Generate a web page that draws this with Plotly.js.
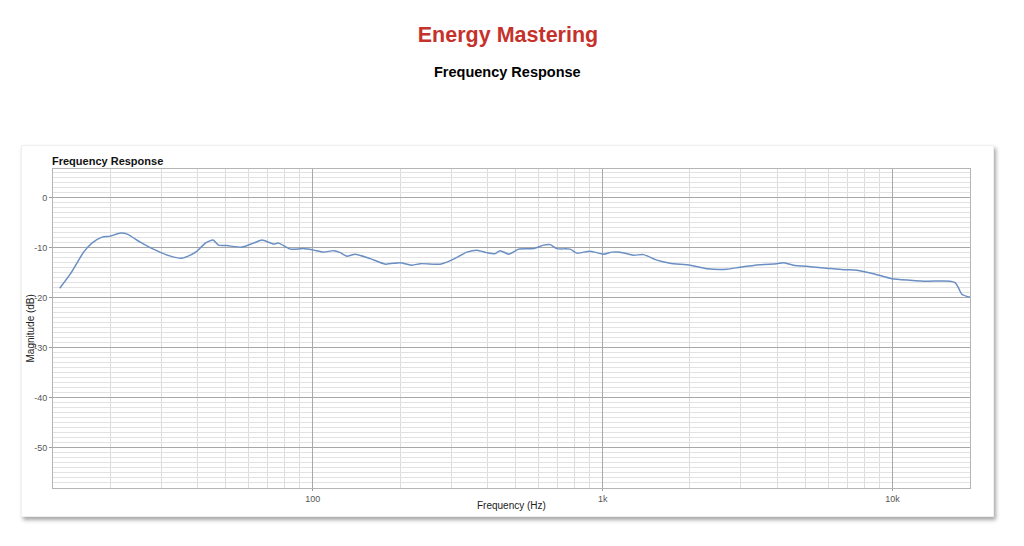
<!DOCTYPE html>
<html>
<head>
<meta charset="utf-8">
<script src="https://cdn.plot.ly/plotly-3.0.1.min.js"></script>
<style>
  html, body { margin: 0; padding: 0; background: #fff; }
  #frame {
    position: absolute; left: 21px; top: 145px; width: 971px; height: 370px;
    background: #fff; border: 1px solid #f0f0f0;
    box-shadow: 2px 3px 4px rgba(0, 0, 0, 0.35);
  }
  #myDiv { position: absolute; left: 0; top: 0; width: 1024px; height: 546px; }
</style>
</head>
<body>
<div id="frame"></div>
<div id="myDiv"></div>
<script>
// frequency response (Hz / dB)
var freqHz = [
  13.4, 14.6, 16.2, 17.3, 18.75, 20, 21.7, 22.9, 25.4, 28.2,
  32.3, 35.4, 37.8, 39.9, 42.6, 45.3, 47.3, 50.6, 57, 62.5,
  66.8, 73.3, 76.2, 83.6, 92.9, 100.6, 109, 118, 124.5, 131,
  140, 158, 178, 200, 220, 235, 275, 290, 306, 340,
  368, 399, 426, 443, 474, 513, 577, 625, 659, 695,
  773, 815, 906, 1006, 1076, 1149, 1277, 1383, 1538, 1709,
  2004, 2288, 2681, 2979, 3492, 3988, 4200, 4550, 5198, 5935,
  6775, 7536, 8600, 9933, 11480, 13110, 15780, 16430, 16870, 17330,
  18500
];
var magDb = [
  -18.1, -15.2, -10.9, -9.1, -7.9, -7.7, -7.1, -7.3, -8.9, -10.3,
  -11.7, -12.1, -11.5, -10.7, -9.1, -8.5, -9.5, -9.6, -9.9, -9.1,
  -8.5, -9.3, -9.1, -10.3, -10.2, -10.5, -10.9, -10.6, -11.0, -11.7,
  -11.3, -12.2, -13.3, -13.0, -13.5, -13.2, -13.3, -12.9, -12.3, -10.9,
  -10.5, -11.0, -11.2, -10.6, -11.3, -10.3, -10.2, -9.5, -9.4, -10.2,
  -10.3, -11.1, -10.7, -11.3, -10.9, -10.9, -11.5, -11.4, -12.5, -13.1,
  -13.5, -14.2, -14.3, -13.9, -13.4, -13.2, -13.0, -13.5, -13.8, -14.1,
  -14.4, -14.5, -15.2, -16.2, -16.5, -16.7, -16.7, -17.0, -18.0, -19.3,
  -19.9
];

var xTickVals = [100, 1000, 10000];
var xTickText = ['100', '1k', '10k'];
var xMinorVals = [20, 30, 40, 50, 60, 70, 80, 90,
  200, 300, 400, 500, 600, 700, 800, 900,
  2000, 3000, 4000, 5000, 6000, 7000, 8000, 9000];
var yTickVals = [0, -10, -20, -30, -40, -50];
var yTickText = ['0', '-10', '-20', '-30', '-40', '-50'];

var font = 'Liberation Sans, Arial, sans-serif';

var trace = {
  x: freqHz,
  y: magDb,
  type: 'scatter',
  mode: 'lines',
  line: { color: '#6a8fc4', width: 1.5, shape: 'spline', smoothing: 0.6 },
  hoverinfo: 'x+y'
};

var layout = {
  width: 1024,
  height: 546,
  margin: { l: 53, r: 54, t: 169, b: 58 },
  paper_bgcolor: 'rgba(0,0,0,0)',
  plot_bgcolor: '#fff',
  showlegend: false,
  font: { family: font, color: '#444', size: 9 },
  title: {
    text: '<b>Energy Mastering</b>',
    font: { family: font, size: 21.5, color: '#c5322b' },
    x: 508 / 1024, xanchor: 'center',
    y: 1 - 34 / 546, yref: 'container', yanchor: 'middle'
  },
  xaxis: {
    type: 'log',
    range: [Math.log10(12.7), Math.log10(18500)],
    tickmode: 'array',
    tickvals: xTickVals,
    ticktext: xTickText,
    ticks: 'outside', ticklen: 2, tickcolor: '#999',
    tickfont: { size: 9, color: '#555' },
    showgrid: true, gridcolor: '#a8a8a8', gridwidth: 1,
    minor: { tickmode: 'array', tickvals: xMinorVals, showgrid: true, gridcolor: '#dcdcdc', gridwidth: 1, ticks: '' },
    showline: true, linecolor: '#b5b5b5', linewidth: 1, mirror: true,
    zeroline: false,
    automargin: false
  },
  yaxis: {
    range: [-58, 5.7],
    tickmode: 'array',
    tickvals: yTickVals,
    ticktext: yTickText,
    ticks: 'outside', ticklen: 3, tickcolor: '#999',
    tickfont: { size: 9, color: '#555' },
    showgrid: true, gridcolor: '#a8a8a8', gridwidth: 1,
    minor: { dtick: 1, showgrid: true, gridcolor: '#e2e2e2', gridwidth: 1, ticks: '' },
    showline: true, linecolor: '#b5b5b5', linewidth: 1, mirror: true,
    zeroline: false,
    automargin: false
  },
  annotations: [
    {
      text: '<b>Frequency Response</b>',
      xref: 'paper', yref: 'paper', x: (507 - 53) / 917, y: (488 - 72) / 319,
      xanchor: 'center', yanchor: 'middle', showarrow: false,
      font: { family: font, size: 14.5, color: '#000' }
    },
    {
      text: '<b>Frequency Response</b>',
      xref: 'paper', yref: 'paper', x: 0, y: 1, xshift: -3,
      xanchor: 'left', yanchor: 'bottom', showarrow: false,
      font: { family: font, size: 11, color: '#111' }
    },
    {
      text: 'Frequency (Hz)',
      xref: 'paper', yref: 'paper', x: 0.5, y: (488 - 505) / 319,
      xanchor: 'center', yanchor: 'middle', showarrow: false,
      font: { family: font, size: 10, color: '#222' }
    },
    {
      text: 'Magnitude (dB)',
      xref: 'paper', yref: 'paper', x: (30 - 53) / 917, y: 0.5,
      xanchor: 'center', yanchor: 'middle', showarrow: false, textangle: -90,
      font: { family: font, size: 10, color: '#222' }
    }
  ]
};

Plotly.newPlot('myDiv', [trace], layout, { displayModeBar: false, staticPlot: true });
</script>
</body>
</html>
